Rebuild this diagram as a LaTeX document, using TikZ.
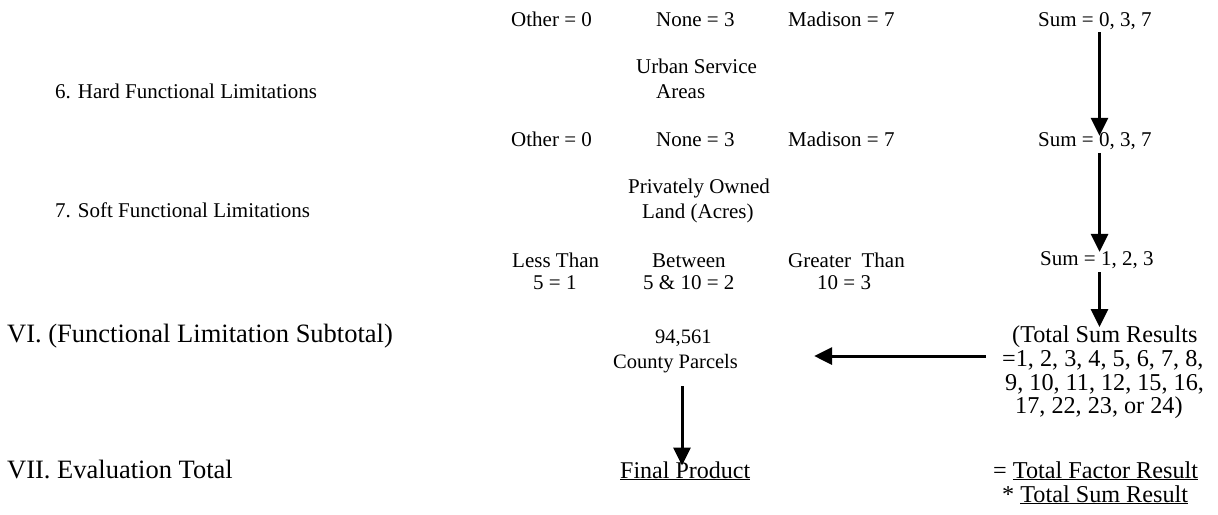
\documentclass[tikz,border=0pt]{standalone}
\usepackage{fontspec}
\setmainfont{Liberation Serif}
\usetikzlibrary{arrows.meta}
\begin{document}
\begin{tikzpicture}[x=1pt,y=-1pt,
  lbl/.style={inner sep=0pt, anchor=base west, font=\fontsize{21}{24}\selectfont},
  cntlbl/.style={inner sep=0pt, anchor=base west, font=\fontsize{20.5}{24}\selectfont},
  biglbl/.style={inner sep=0pt, anchor=base west, font=\fontsize{26.5}{30}\selectfont},
  reslbl/.style={inner sep=0pt, anchor=base west, font=\fontsize{24.2}{28}\selectfont},
  arr/.style={line width=3pt, -{Triangle[length=18pt,width=17pt]}}]
\useasboundingbox (0,0) rectangle (1218,514);

% row 1
\node[lbl] (o1) at (511,26) {Other = 0};
\node[lbl] (n1) at (656,26) {None = 3};
\node[lbl] (m1) at (788,26) {Madison = 7};
\node[lbl] (s1) at (1038,26) {Sum = 0, 3, 7};
\node[lbl] (usa1) at (636,73) {Urban Service};
\node[lbl] (usa2) at (656,98) {Areas};
\node[lbl] (hard) at (55,98) {6. Hard Functional Limitations};

% row 2
\node[lbl] (o2) at (511,146) {Other = 0};
\node[lbl] (n2) at (656,146) {None = 3};
\node[lbl] (m2) at (788,146) {Madison = 7};
\node[lbl] (s2) at (1038,146) {Sum = 0, 3, 7};
\node[lbl] (po1) at (628,193) {Privately Owned};
\node[lbl] (po2) at (642,218) {Land (Acres)};
\node[lbl] (soft) at (55,217) {7. Soft Functional Limitations};

% row 3
\node[lbl] (lt1) at (512,267) {Less Than};
\node[lbl] (lt2) at (533,289) {5 = 1};
\node[lbl] (bt1) at (652,267) {Between};
\node[lbl] (bt2) at (643,289) {5 \& 10 = 2};
\node[lbl] (gt1) at (788,267) {Greater\ \ Than};
\node[lbl] (gt2) at (817,289) {10 = 3};
\node[lbl] (s3) at (1040,265) {Sum = 1, 2, 3};

% subtotal
\node[biglbl] (vi) at (7,342) {VI. (Functional Limitation Subtotal)};
\node[cntlbl] (cnt) at (655,343) {94,561};
\node[cntlbl] (cp) at (613,368) {County Parcels};
\node[reslbl] (t1) at (1012,342) {(Total Sum Results};
\node[reslbl] (t2) at (1002,366.5) {=1, 2, 3, 4, 5, 6, 7, 8,};
\node[reslbl] (t3) at (1005,390) {9, 10, 11, 12, 15, 16,};
\node[reslbl] (t4) at (1015,413) {17, 22, 23, or 24)};

% evaluation total
\node[biglbl] (vii) at (7,478) {VII. Evaluation Total};
\node[inner sep=0pt, anchor=base west, font=\fontsize{24}{28}\selectfont] (fp) at (620,478) {\underline{Final Product}};
\node[reslbl] (tfr) at (993,478) {= \underline{Total Factor Result}};
\node[reslbl] (tsr) at (1002,502) {* \underline{Total Sum Result}};

% connectors
\coordinate (cx) at (1099.5,0);
\coordinate (ly) at (0,356);
\coordinate (dx) at (682,0);
\draw[arr, shorten <=3pt, shorten >=-4pt] (s1.south -| cx) -- (s2.north -| cx);
\draw[arr, shorten <=3.5pt, shorten >=-1pt] (s2.south -| cx) -- (s3.north -| cx);
\draw[arr, shorten <=4pt, shorten >=-2pt] (s3.south -| cx) -- (t1.north -| cx);
\draw[arr, shorten <=16pt, shorten >=76pt] (t2.west |- ly) -- (cp.east |- ly);
\draw[arr, shorten <=13.5pt, shorten >=-4.4pt] (cp.south -| dx) -- (fp.north -| dx);
\end{tikzpicture}
\end{document}
